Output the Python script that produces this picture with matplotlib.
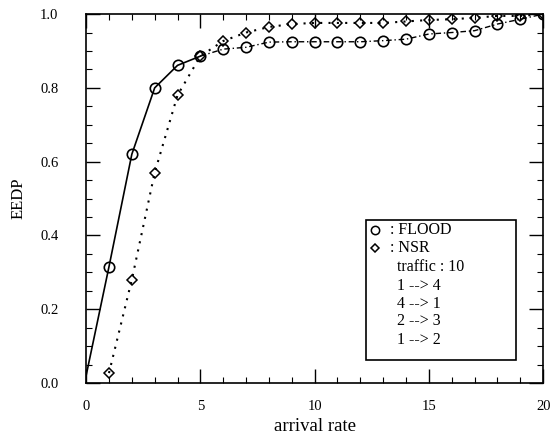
import matplotlib.pyplot as plt
from matplotlib.patches import Rectangle
from matplotlib.ticker import MultipleLocator

# valores
rate = [0, 1, 2, 3, 4, 5, 6, 7, 8, 9, 10, 11, 12, 13, 14, 15, 16, 17, 18, 19, 20]
flood = [0.02, 0.315, 0.62, 0.80, 0.861, 0.886, 0.905, 0.91, 0.924, 0.925, 0.925,
         0.925, 0.925, 0.928, 0.932, 0.946, 0.95, 0.955, 0.973, 0.986, 1.0]
nsr_rate = [1, 2, 3, 4, 5, 6, 7, 8, 9, 10, 11, 12, 13, 14, 15, 16, 17, 18, 19, 20]
nsr = [0.027, 0.28, 0.57, 0.78, 0.886, 0.927, 0.95, 0.965, 0.973, 0.976, 0.976,
       0.976, 0.976, 0.98, 0.984, 0.986, 0.99, 0.995, 0.995, 1.0]
legend_lines = ['traffic : 10', '1 --> 4', '4 --> 1', '2 --> 3', '1 --> 2']

plt.rcParams['font.family'] = 'Liberation Serif'

fig = plt.figure(figsize=(5.52, 4.4), dpi=100)
ax = fig.add_axes([0.156, 0.1295, 0.828, 0.8385])

# FLOOD: continua ate 5, depois traco-ponto
ax.plot(rate[:6], flood[:6], '-', color='black', lw=1.2)
ax.plot(rate[5:], flood[5:], linestyle=(0, (4, 2, 1, 2)), color='black', lw=1.0)
ax.plot(rate[1:], flood[1:], 'o', ms=7.5, mfc='none', mec='black', mew=1.2)

# NSR: pontilhado
ax.plot(nsr_rate, nsr, linestyle=(0, (1, 3)), color='black', lw=1.5)
ax.plot(nsr_rate, nsr, 'D', ms=5, mfc='none', mec='black', mew=1.1)

ax.set_xlim(0, 20)
ax.set_ylim(0, 1.0)
ax.xaxis.set_major_locator(MultipleLocator(5))
ax.xaxis.set_minor_locator(MultipleLocator(1))
ax.yaxis.set_major_locator(MultipleLocator(0.2))
ax.yaxis.set_minor_locator(MultipleLocator(0.05))
ax.yaxis.set_major_formatter(plt.FormatStrFormatter('%.1f'))
ax.tick_params(which='major', direction='in', length=10, width=1, top=True, right=True,
               labelsize=10.5)
ax.tick_params(axis='x', which='major', pad=12)
ax.tick_params(axis='y', which='major', pad=20)
ax.tick_params(which='minor', direction='in', length=4, width=0.8, top=True, right=True)
for s in ax.spines.values():
    s.set_linewidth(1.2)

ax.set_xlabel('arrival rate', fontsize=13.5, labelpad=4)
ax.set_ylabel('EEDP', fontsize=12, labelpad=10)

# caixa de legenda manual
ax.add_patch(Rectangle((0.613, 0.063), 0.328, 0.38, transform=ax.transAxes,
                       fill=False, lw=1.2, edgecolor='black'))
ax.plot([0.633], [0.415], 'o', ms=6, mfc='none', mec='black', mew=1.1, transform=ax.transAxes)
ax.plot([0.633], [0.367], 'D', ms=4.5, mfc='none', mec='black', mew=1.1, transform=ax.transAxes)
ax.text(0.665, 0.415, ': FLOOD', transform=ax.transAxes, va='center', fontsize=11.5)
ax.text(0.665, 0.367, ': NSR', transform=ax.transAxes, va='center', fontsize=11.5)
ys = [0.315, 0.263, 0.215, 0.168, 0.117]
for t, y in zip(legend_lines, ys):
    ax.text(0.68, y, t, transform=ax.transAxes, va='center', fontsize=11.5)

plt.savefig('out.png', dpi=100)
